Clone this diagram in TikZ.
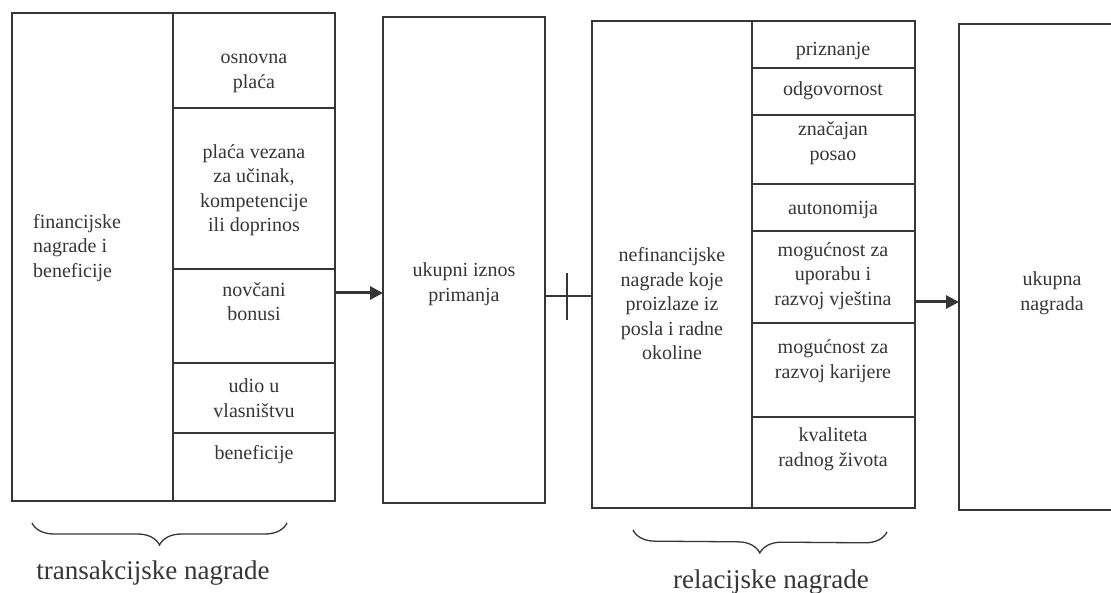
\documentclass[tikz,border=0pt]{standalone}
\usepackage{fontspec}
\setmainfont{Liberation Serif}
\usetikzlibrary{arrows.meta,decorations.pathreplacing}
\definecolor{lc}{HTML}{363636}
\definecolor{tc}{HTML}{363636}
\begin{document}
\begin{tikzpicture}[x=1pt,y=-1pt,
  cell/.style={draw=lc,line width=1.8pt,inner sep=0pt,outer sep=0pt,anchor=north west},
  txt/.style={text=tc,font=\fontsize{20}{24.5}\selectfont,align=center,inner sep=0pt},
  lbl/.style={text=tc,font=\fontsize{27}{32}\selectfont,inner sep=0pt},
  arr/.style={draw=lc,line width=3pt,-{Triangle[length=13pt,width=13pt]}},
  plusline/.style={draw=lc,line width=2.6pt},
  brc/.style={draw=lc,line width=1.3pt,decorate,decoration={brace,mirror,amplitude=22pt}}
]
\useasboundingbox[fill=white] (0,0) rectangle (1111,593);

% left group
\node[cell,minimum width=161pt,minimum height=488pt] (LF) at (12,13) {};
\node[cell,minimum width=162pt,minimum height=95pt] (L1) at (173,13) {};
\node[cell,minimum width=162pt,minimum height=161pt] (L2) at (173,108) {};
\node[cell,minimum width=162pt,minimum height=94pt] (L3) at (173,269) {};
\node[cell,minimum width=162pt,minimum height=70pt] (L4) at (173,363) {};
\node[cell,minimum width=162pt,minimum height=68pt] (L5) at (173,433) {};

\node[txt,align=left,anchor=west] (tLF) at (33,248) {financijske\\nagrade i\\beneficije};
\node[txt] (tL1) at (254,73.5) {osnovna\\plaća};
\node[txt] (tL2) at (254,190) {plaća vezana\\za učinak,\\kompetencije\\ili doprinos};
\node[txt] (tL3) at (254,301.5) {novčani\\bonusi};
\node[txt] (tL4) at (254,398) {udio u\\vlasništvu};
\node[txt] (tL5) at (254,455) {beneficije};

% middle box
\node[cell,minimum width=162pt,minimum height=486pt] (M) at (383,17) {};
\node[txt] (tM) at (464,284) {ukupni iznos\\primanja};

% right group
\node[cell,minimum width=160pt,minimum height=487pt] (RF) at (592,21) {};
\node[cell,minimum width=163pt,minimum height=47pt] (R1) at (752,21) {};
\node[cell,minimum width=163pt,minimum height=47pt] (R2) at (752,68) {};
\node[cell,minimum width=163pt,minimum height=69pt] (R3) at (752,115) {};
\node[cell,minimum width=163pt,minimum height=47pt] (R4) at (752,184) {};
\node[cell,minimum width=163pt,minimum height=92pt] (R5) at (752,231) {};
\node[cell,minimum width=163pt,minimum height=94pt] (R6) at (752,323) {};
\node[cell,minimum width=163pt,minimum height=91pt] (R7) at (752,417) {};

\node[txt] (tRF) at (672,304) {nefinancijske\\nagrade koje\\proizlaze iz\\posla i radne\\okoline};
\node[txt] (tR1) at (833,51) {priznanje};
\node[txt] (tR2) at (833,91) {odgovornost};
\node[txt] (tR3) at (833,143) {značajan\\posao};
\node[txt] (tR4) at (833,210) {autonomija};
\node[txt] (tR5) at (833,276) {mogućnost za\\uporabu i\\razvoj vještina};
\node[txt] (tR6) at (833,361) {mogućnost za\\razvoj karijere};
\node[txt] (tR7) at (833,449) {kvaliteta\\radnog života};

% total box (right edge lies outside the picture)
\node[cell,minimum width=200pt,minimum height=486pt] (T) at (959,24) {};
\node[txt] (tT) at (1052,293) {ukupna\\nagrada};

% connectors
\coordinate (a1) at (0,293);
\draw[arr] (L3.east |- a1) -- (M.west |- a1);
\coordinate (p) at (567,296);
\coordinate (pt) at (567,273);
\coordinate (pb) at (567,320);
\draw[plusline] (M.east |- p) -- (RF.west |- p);
\draw[plusline] (pt) -- (pb);
\coordinate (a2) at (0,302);
\draw[arr] (R5.east |- a2) -- (T.west |- a2);

% braces
\coordinate (b1s) at (32,523);
\coordinate (b1e) at (287,523);
\draw[brc] (b1s) -- (b1e);
\node[lbl] (lt) at (153,573) {transakcijske nagrade};
\coordinate (b2s) at (633,530);
\coordinate (b2e) at (887,532);
\draw[brc] (b2s) -- (b2e);
\node[lbl] (lr) at (771,582) {relacijske nagrade};
\end{tikzpicture}
\end{document}
